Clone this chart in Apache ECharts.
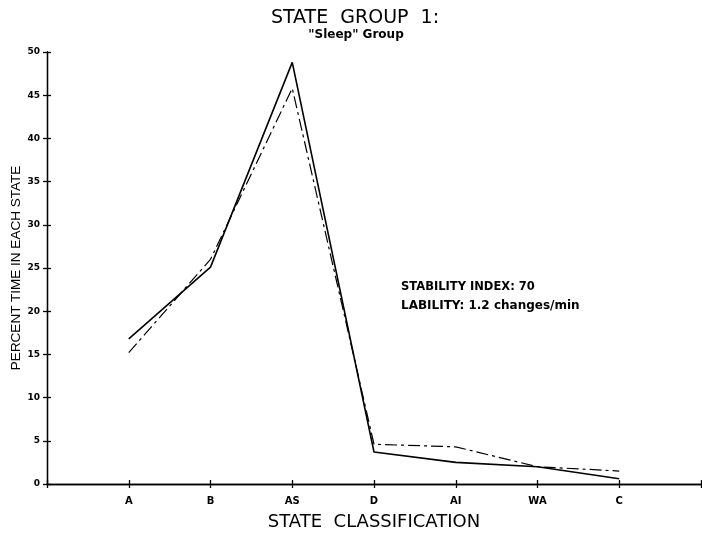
<!DOCTYPE html>
<html>
<head>
<meta charset="utf-8">
<script src="https://cdn.jsdelivr.net/npm/echarts@6/dist/echarts.min.js"></script>
<style>
  html, body { margin: 0; padding: 0; background: #fff; }
  #chart { width: 702px; height: 534px; }
</style>
</head>
<body>
<div id="chart"></div>
<script>
// State classifications along the horizontal axis
const states = ['A', 'B', 'AS', 'D', 'AI', 'WA', 'C'];
// Percent of time spent in each state
const solidSeries = [16.8, 25.1, 48.8, 3.7, 2.5, 2.0, 0.6];
const dashedSeries = [15.2, 26.0, 45.8, 4.6, 4.3, 2.0, 1.5];
// Tick values on the vertical axis
const yTicks = [0, 5, 10, 15, 20, 25, 30, 35, 40, 45, 50];

const chart = echarts.init(document.getElementById('chart'), null, { renderer: 'canvas' });

const toPoints = vals => vals.map((v, i) => [i + 1, v]);
const boldFont = { fontFamily: 'DejaVu Sans, sans-serif', fontWeight: 'bold', color: '#000' };

const baseX = {
  type: 'value', min: 0, max: states.length + 1, interval: 1,
  axisLine: { show: true, lineStyle: { color: '#000', width: 1.3 } },
  splitLine: { show: false }
};
const baseY = {
  type: 'value', min: yTicks[0], max: yTicks[yTicks.length - 1], interval: 5,
  axisLine: { show: true, lineStyle: { color: '#000', width: 1.3 } },
  splitLine: { show: false }
};

chart.setOption({
  animation: false,
  backgroundColor: '#fff',
  title: [
    {
      text: 'STATE  GROUP  1:', left: 350, top: 4, textAlign: 'center',
      textStyle: { fontFamily: 'DejaVu Sans, sans-serif', fontWeight: 'normal', fontSize: 19, color: '#000' }
    },
    {
      text: '"Sleep" Group', left: 351, top: 24, textAlign: 'center',
      textStyle: { fontFamily: 'DejaVu Sans, sans-serif', fontWeight: 'bold', fontSize: 12, color: '#000' }
    }
  ],
  grid: { left: 47, right: 1, top: 52, bottom: 50, containLabel: false, outerBoundsMode: 'none' },
  xAxis: [
    Object.assign({}, baseX, {
      axisTick: { show: true, length: 4, lineStyle: { color: '#000', width: 1.3 } },
      axisLabel: {
        show: true, margin: 12, fontSize: 10, ...boldFont,
        formatter: v => (v >= 1 && v <= states.length) ? states[v - 1] : ''
      },
      name: 'STATE  CLASSIFICATION', nameLocation: 'middle', nameGap: 29, nameMoveOverlap: false,
      nameTextStyle: { fontFamily: 'DejaVu Sans, sans-serif', fontSize: 18, color: '#000' }
    }),
    Object.assign({}, baseX, {
      position: 'bottom',
      axisTick: { show: true, inside: true, length: 4, lineStyle: { color: '#000', width: 1.3 } },
      axisLabel: { show: false }
    })
  ],
  yAxis: [
    Object.assign({}, baseY, {
      axisTick: { show: true, length: 4, lineStyle: { color: '#000', width: 1.3 } },
      axisLabel: { show: true, margin: 7, fontSize: 9, ...boldFont },
      name: 'PERCENT TIME IN EACH STATE', nameLocation: 'middle', nameGap: 24, nameRotate: 90,
      nameMoveOverlap: false,
      nameTextStyle: { fontFamily: 'Liberation Sans, Arial, sans-serif', fontSize: 13.5, color: '#000' }
    }),
    Object.assign({}, baseY, {
      position: 'left',
      axisTick: { show: true, inside: true, length: 4, lineStyle: { color: '#000', width: 1.3 } },
      axisLabel: { show: false }
    })
  ],
  graphic: [
    {
      type: 'text', left: 401, top: 281,
      style: { text: 'STABILITY INDEX: 70', font: 'bold 11.5px DejaVu Sans, sans-serif', fill: '#000' }
    },
    {
      type: 'text', left: 401, top: 300,
      style: { text: 'LABILITY: 1.2 changes/min', font: 'bold 12px DejaVu Sans, sans-serif', fill: '#000' }
    }
  ],
  series: [
    {
      type: 'line', name: 'solid', data: toPoints(solidSeries),
      showSymbol: false, symbol: 'none',
      lineStyle: { color: '#000', width: 1.6, type: 'solid' }
    },
    {
      type: 'line', name: 'dashed', data: toPoints(dashedSeries),
      showSymbol: false, symbol: 'none',
      lineStyle: { color: '#000', width: 1.2, type: [12, 4, 3, 4] }
    }
  ]
});
</script>
</body>
</html>
